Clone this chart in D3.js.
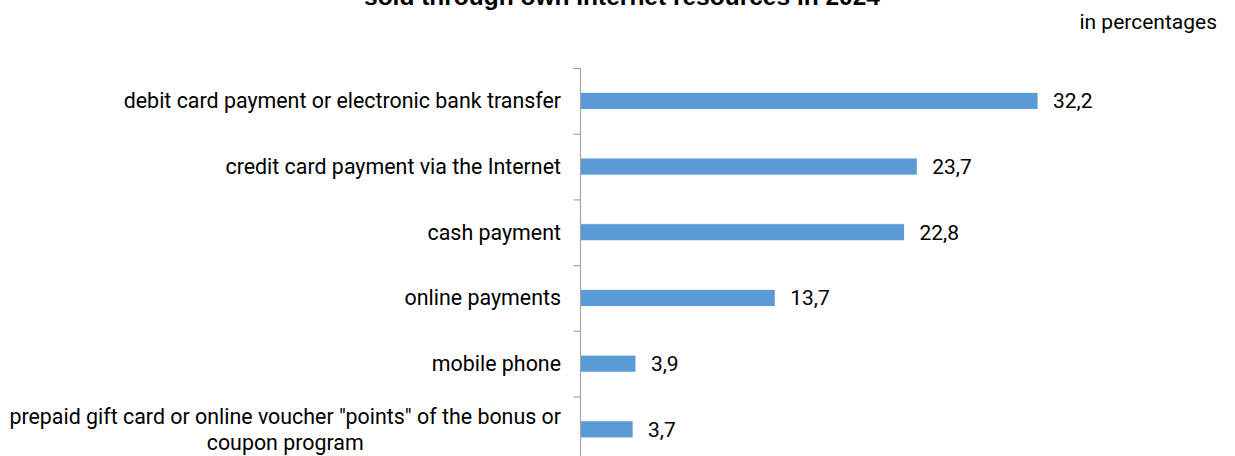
<!DOCTYPE html>
<html><head><meta charset="utf-8">
<script src="https://cdn.jsdelivr.net/npm/d3@7"></script>
<style>body{margin:0;background:#fff;}svg{display:block;}</style>
</head><body>
<script>
const categories = [
  ["debit card payment or electronic bank transfer"],
  ["credit card payment via the Internet"],
  ["cash payment"],
  ["online payments"],
  ["mobile phone"],
  ["prepaid gift card or online voucher \"points\" of the bonus or", "coupon program"]
];
const values = [32.2, 23.7, 22.8, 13.7, 3.9, 3.7];
const valueLabels = ["32,2", "23,7", "22,8", "13,7", "3,9", "3,7"];
const titleText = "sold through own Internet resources in 2024";
const unitText = "in percentages";

const W = 1235, H = 456;
const svg = d3.select("body").append("svg").attr("width", W).attr("height", H);

const x0 = 580.5;
const x = d3.scaleLinear().domain([0, 32.2]).range([x0, 1038]);
const y = d3.scaleBand().domain(d3.range(categories.length)).range([68, 68 + 65.7 * 6]).paddingInner(0).paddingOuter(0);

svg.append("text").attr("x", 622).attr("y", 5).attr("text-anchor", "middle")
  .style("font-family", "Liberation Sans, Arial, sans-serif").style("font-weight", "bold").style("font-size", "24.5px")
  .text(titleText);
svg.append("text").attr("x", 1217).attr("y", 29).attr("text-anchor", "end")
  .style("font-family", "Roboto, sans-serif").style("font-size", "21px").attr("fill", "#000")
  .text(unitText);

const barH = 17;
svg.selectAll("rect.bar").data(values).enter().append("rect")
  .attr("class", "bar")
  .attr("x", x(0)).attr("y", (d, i) => y(i) + y.bandwidth() / 2 - barH / 2)
  .attr("width", d => x(d) - x(0)).attr("height", barH)
  .attr("fill", "#5B9BD5").attr("stroke", "#fff").attr("stroke-width", 0.8);

// axis
const axis = d3.axisLeft(d3.scaleLinear().domain([0, 6]).range([68, 68 + 65.7 * 6]))
  .tickValues(d3.range(0, 7)).tickSize(7).tickFormat("");
const g = svg.append("g").attr("transform", `translate(${x0},0)`).call(axis);
g.selectAll("path, line").attr("stroke", "#A6A6A6").attr("stroke-width", 1.2);
g.select("path").attr("d", `M-7,68.5H0V${H + 20}`);

// category labels
const lab = svg.selectAll("text.cat").data(categories).enter().append("text")
  .attr("class", "cat").attr("text-anchor", "middle")
  .style("font-family", "Roboto, sans-serif").style("font-size", "21.4px").attr("fill", "#000");
lab.each(function (d, i) {
  const t = d3.select(this);
  const cy = y(i) + y.bandwidth() / 2;
  const lh = 25.5;
  const start = cy - (d.length - 1) * lh / 2;
  d.forEach((line, k) => {
    t.append("tspan").attr("x", 0).attr("y", start + k * lh).attr("dy", "0.35em").text(line);
  });
});
lab.each(function () {
  const w = this.getBBox().width;
  d3.select(this).attr("transform", `translate(${561 - w / 2},0)`);
});

// value labels
svg.selectAll("text.val").data(values).enter().append("text")
  .attr("class", "val")
  .attr("x", d => x(d) + 15)
  .attr("y", (d, i) => y(i) + y.bandwidth() / 2).attr("dy", "0.35em")
  .style("font-family", "Roboto, sans-serif").style("font-size", "21px").attr("fill", "#000")
  .text((d, i) => valueLabels[i]);
</script>
</body></html>
